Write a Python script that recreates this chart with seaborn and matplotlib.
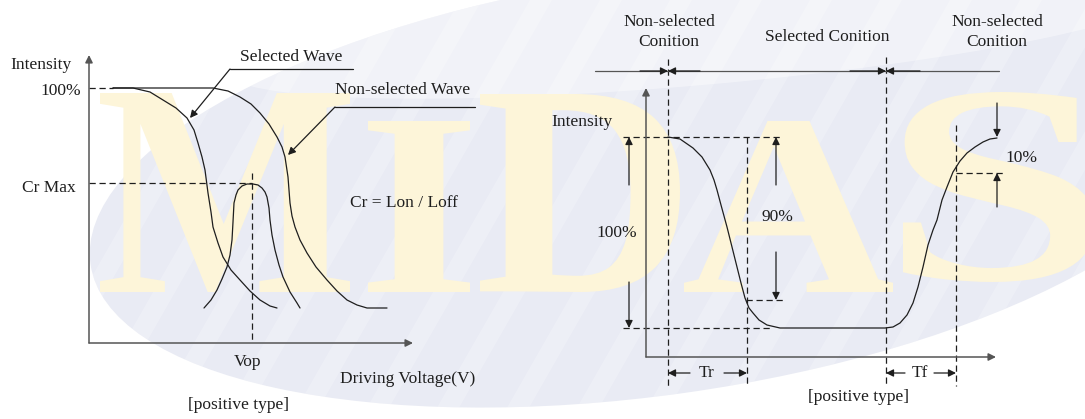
import numpy as np
import matplotlib
matplotlib.use('Agg')
import matplotlib.pyplot as plt
import seaborn as sns
from matplotlib.patches import Ellipse, PathPatch, Polygon
from matplotlib.textpath import TextPath
from matplotlib.font_manager import FontProperties
from matplotlib.transforms import Affine2D

# ---- curve data (drawing units, y grows downward) ----
# left panel: intensity vs driving voltage
sel_x = [113, 133, 150, 163, 176, 187, 194, 198, 202, 205, 208, 211, 213, 218, 223, 231, 240, 250, 260, 270, 277]
sel_y = [88, 88, 92, 100, 108, 118, 130, 143, 157, 170, 193, 212, 227, 243, 257, 270, 280, 291, 300, 306, 308]

nsel_x = [113, 213, 228, 240, 251, 260, 269, 277, 282, 285, 288, 290, 292, 295, 300, 307, 316, 327, 337, 347, 357, 367, 387]
nsel_y = [88, 88, 91, 97, 104, 113, 124, 137, 147, 157, 177, 203, 216, 227, 240, 253, 267, 280, 291, 300, 305, 308, 308]

cr_x = [204, 211, 217, 222, 227, 230, 232, 233, 234, 236, 238, 242, 247, 253, 258, 262, 265, 267, 269, 270, 272, 275, 279, 283, 290, 297, 300]
cr_y = [308, 300, 290, 279, 267, 255, 240, 222, 203, 195, 190, 186, 184, 184, 185, 188, 192, 197, 208, 220, 235, 250, 265, 277, 292, 303, 308]

# right panel: optical response in time
resp_x = [668, 680, 693, 702, 710, 714, 717, 721, 727, 732, 737, 741, 745, 749, 753, 759, 767, 780, 885, 893, 900, 907, 913, 918, 923, 928, 933, 937, 942, 947, 953, 960, 967, 975, 983, 990, 997]
resp_y = [137, 139, 148, 157, 170, 180, 190, 205, 227, 247, 267, 283, 298, 308, 313, 320, 325, 328, 328, 327, 323, 315, 303, 287, 267, 245, 230, 220, 200, 187, 172, 161, 153, 147, 142, 139, 138]

# guide lines (dashed) as (x0, y0, x1, y1)
left_guides = [(89, 88, 113, 88), (89, 183, 252, 183), (252, 173, 252, 343)]
right_guides = [(623, 137, 780, 137), (623, 328, 773, 328), (746, 300, 784, 300), (956, 173, 1003, 173),
                (668, 59, 668, 386), (747, 137, 747, 386), (886, 57, 886, 386), (956, 125, 956, 386)]

# texts
left_labels = [("Intensity", 10, 65, 'left'), ("100%", 81, 91, 'right'), ("Cr Max", 22, 188, 'left'),
               ("Selected Wave", 291, 57, 'center'), ("Non-selected Wave", 403, 90, 'center'),
               ("Cr = Lon / Loff", 404, 203, 'center'), ("Vop", 248, 362, 'center'),
               ("Driving Voltage(V)", 408, 379, 'center'), ("[positive type]", 238, 405, 'center')]
right_labels = [("Non-selected\nConition", 669, 32, 'center'), ("Selected Conition", 827, 37, 'center'),
                ("Non-selected\nConition", 997, 32, 'center'), ("Intensity", 613, 122, 'right'),
                ("100%", 617, 233, 'center'), ("90%", 777, 217, 'center'), ("10%", 1021, 158, 'center'),
                ("Tr", 707, 373, 'center'), ("Tf", 920, 373, 'center'), ("[positive type]", 858, 397, 'center')]

sns.set_theme(style='white')
plt.rcParams['font.family'] = ['Liberation Serif', 'DejaVu Serif']

W, H = 1085, 419
fig = plt.figure(figsize=(W / 100, H / 100), dpi=100)
ax = fig.add_axes([0, 0, 1, 1])
ax.set_xlim(0, W)
ax.set_ylim(H, 0)
ax.axis('off')

# ---- background swoosh ----
swoosh = Ellipse((655, 185), 1140, 420, angle=-8, facecolor='#e9ebf4', edgecolor='none', zorder=0)
ax.add_patch(swoosh)
for cx in np.arange(-200, 1400, 70):
    band = Polygon([(cx, 420), (cx + 22, 420), (cx + 262, 0), (cx + 240, 0)],
                   closed=True, facecolor='white', edgecolor='none', alpha=0.22, zorder=0.1)
    ax.add_patch(band)
    band.set_clip_path(swoosh)
gloss = Ellipse((700, 30), 950, 110, angle=-5, facecolor='white', edgecolor='none', alpha=0.4, zorder=0.2)
ax.add_patch(gloss)
gloss.set_clip_path(swoosh)

# ---- MIDAS watermark ----
wm_font = FontProperties(family='Liberation Serif', weight='bold')
wm_boxes = [("M", 100, 350, 93, 292), ("I", 368, 470, 121, 292), ("D", 480, 680, 94, 292),
            ("A", 684, 893, 121, 292), ("S", 903, 1095, 92, 282)]
for ch, x0, x1, y0, y1 in wm_boxes:
    tp = TextPath((0, 0), ch, size=100, prop=wm_font)
    ext = tp.get_extents()
    tr = (Affine2D().translate(-ext.x0, -ext.y0)
          .scale((x1 - x0) / ext.width, -(y1 - y0) / ext.height)
          .translate(x0, y1))
    ax.add_patch(PathPatch(tr.transform_path(tp), facecolor='#fdf5d9', edgecolor='none',
                           zorder=0.5))

ink = '#1e1e1e'
axis_c = '#555555'
dash = (0, (5, 3))

# ---- axes of both panels ----
def arrow(x0, y0, x1, y1, style='-|>', color=ink, lw=0.9):
    ax.annotate('', xy=(x1, y1), xytext=(x0, y0),
                arrowprops=dict(arrowstyle=style, color=color, lw=lw, mutation_scale=11,
                                shrinkA=0, shrinkB=0), zorder=3)

arrow(89, 343, 89, 55, color=axis_c, lw=1.1)
arrow(89, 343, 413, 343, color=axis_c, lw=1.1)
arrow(646, 357, 646, 88, color=axis_c, lw=1.1)
arrow(646, 357, 996, 357, color=axis_c, lw=1.1)

# ---- curves ----
for xs, ys in [(sel_x, sel_y), (nsel_x, nsel_y), (cr_x, cr_y), (resp_x, resp_y)]:
    sns.lineplot(x=xs, y=ys, sort=False, estimator=None, color=ink, lw=0.9, ax=ax, zorder=2)

for x0, y0, x1, y1 in left_guides + right_guides:
    ax.plot([x0, x1], [y0, y1], color=ink, lw=0.9, linestyle=dash, zorder=2)

# leaders and underlines on left panel
ax.plot([230, 353], [69, 69], color=ink, lw=0.9)
ax.plot([335, 475], [107, 107], color=ink, lw=0.9)
arrow(230, 69, 190, 118)
arrow(335, 107, 288, 155)

# condition arrows on right panel
ax.plot([595, 999], [71, 71], color=axis_c, lw=0.9)
arrow(640, 71, 668, 71)
arrow(700, 71, 668, 71)
arrow(850, 71, 886, 71)
arrow(920, 71, 886, 71)

# level arrows
arrow(629, 185, 629, 137)
arrow(629, 282, 629, 328)
arrow(776, 185, 776, 137)
arrow(776, 252, 776, 300)
arrow(997, 103, 997, 137)
arrow(997, 207, 997, 173)
arrow(690, 373, 668, 373)
arrow(724, 373, 747, 373)
arrow(905, 373, 886, 373)
arrow(934, 373, 956, 373)

for txt, x, y, ha in left_labels + right_labels:
    ax.text(x, y, txt, ha=ha, va='center', fontsize=12.5, color=ink, linespacing=1.25, zorder=4)

fig.savefig('out.png', dpi=100)
